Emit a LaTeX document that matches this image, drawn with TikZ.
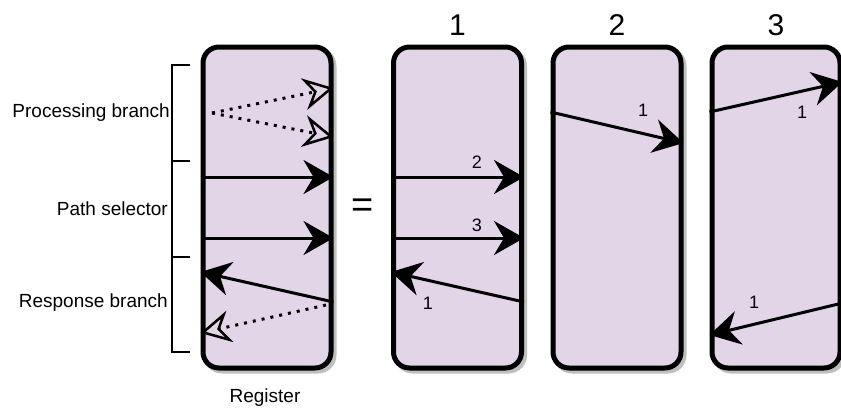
\documentclass[tikz,border=0pt]{standalone}
\usepackage{fontspec}
\setmainfont{Liberation Sans}
\usetikzlibrary{arrows.meta,shadows}

\definecolor{regfill}{HTML}{E1D5E7}

\tikzset{
  regbox/.style={draw=black, line width=5pt, fill=regfill, rounded corners=16pt,
    minimum width=128pt, minimum height=321pt, inner sep=0pt,
    drop shadow={shadow xshift=3pt, shadow yshift=-3pt, opacity=1,
      fill=black!25, draw=black!25, line width=5pt}},
  solidarr/.style={line width=3pt, -{Stealth[length=30pt,width=34pt,inset=10pt]}},
  dotarr/.style={line width=3pt, dash pattern=on 3pt off 6pt,
    -{Stealth[open,length=30pt,width=32pt,inset=10pt,line width=2.5pt]}},
  lbl/.style={font=\fontsize{19}{23}\selectfont, inner sep=0pt},
  num/.style={font=\fontsize{18}{21}\selectfont, inner sep=0pt},
  bigtxt/.style={font=\fontsize{30}{36}\selectfont, inner sep=0pt},
  brace/.style={line width=1.3pt}
}

\begin{document}
\begin{tikzpicture}[x=1pt, y=-1pt]
\useasboundingbox (0,0) rectangle (841,410);

% the four registers
\node[regbox] (reg) at (267,207.5) {};
\node[regbox] (box1) at (457.5,207.5) {};
\node[regbox] (box2) at (617,207.5) {};
\node[regbox] (box3) at (776,207.5) {};

\node[bigtxt, font=\fontsize{38}{40}\selectfont] (eq) at (363,208) {=};
\node[bigtxt] (t1) at (457.5,25) {1};
\node[bigtxt] (t2) at (617,25) {2};
\node[bigtxt] (t3) at (776,25) {3};
\node[lbl] (regname) at (265,398) {Register};

% bracket and its labels
\draw[brace] (190,65) -- (172,65) -- (172,352) -- (190,352);
\draw[brace] (172,161) -- (190,161);
\draw[brace] (172,257) -- (190,257);
\node[lbl, anchor=east] (proc) at (170,113) {Processing branch};
\node[lbl, anchor=east] (sel) at (168,209) {Path selector};
\node[lbl, anchor=east] (resp) at (168,303) {Response branch};

% register
\coordinate (pstart) at (212,113);
\coordinate (pup) at (reg.east |- 0,88);
\coordinate (pdown) at (reg.east |- 0,137);
\draw[dotarr] (pstart) -- (pup);
\draw[dotarr] (pstart) -- (pdown);
\draw[solidarr] (reg.west |- 0,177) -- (reg.east |- 0,177);
\draw[solidarr] (reg.west |- 0,238) -- (reg.east |- 0,238);
\coordinate (rin) at (reg.east |- 0,302);
\coordinate (rout) at (reg.west |- 0,272);
\draw[solidarr] (rin) -- (rout);
\coordinate (rdin) at (326,305);
\coordinate (rdout) at (reg.west |- 0,333);
\draw[dotarr] (rdin) -- (rdout);

% step 1
\draw[solidarr] (box1.west |- 0,177) -- (box1.east |- 0,177);
\draw[solidarr] (box1.west |- 0,238) -- (box1.east |- 0,238);
\draw[solidarr] (box1.east |- 0,302) -- (box1.west |- 0,272);
\node[num] (a2) at (477,162) {2};
\node[num] (a3) at (477,225) {3};
\node[num] (a1) at (428,303) {1};

% step 2
\draw[solidarr] (box2.west |- 0,112) -- (box2.east |- 0,143);
\node[num] (b1) at (643,110) {1};

% step 3
\draw[solidarr] (box3.west |- 0,112) -- (box3.east |- 0,82);
\draw[solidarr] (box3.east |- 0,303) -- (box3.west |- 0,335);
\node[num] (c1) at (802,112) {1};
\node[num] (c2) at (754,302) {1};

\end{tikzpicture}
\end{document}
